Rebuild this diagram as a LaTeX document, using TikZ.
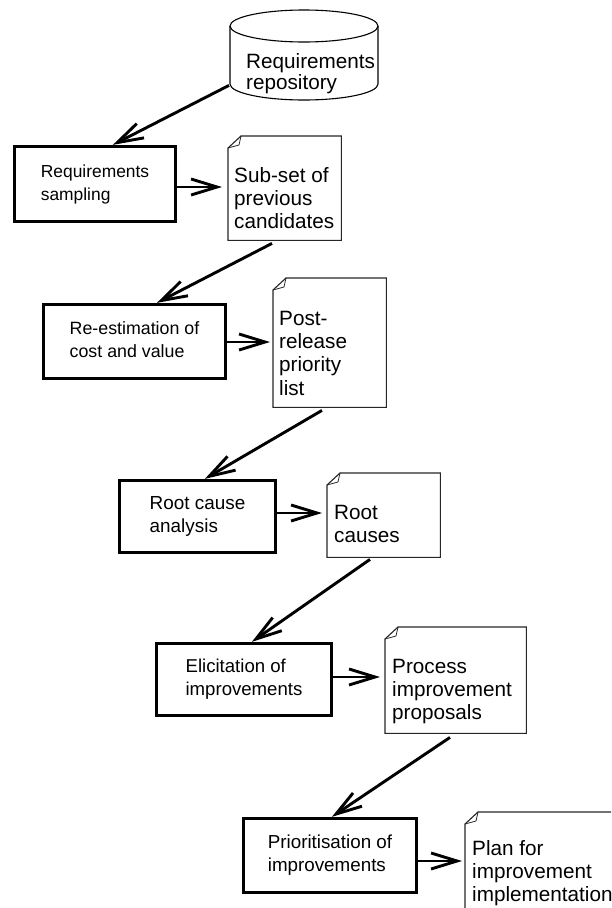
\documentclass[tikz,border=0pt]{standalone}
\usepackage{fontspec}
\setmainfont{Liberation Sans}
\usetikzlibrary{arrows.meta,calc}
\newcommand\docshape[1]{%
  \draw[docline] ($(#1.north west)+(0,12)$) -- ($(#1.north west)+(13,0)$) -- (#1.north east) -- (#1.south east) -- (#1.south west) -- cycle;
  \draw[docline, line width=0.8pt] ($(#1.north west)+(0,12)$) -- ($(#1.north west)+(11,9)$) -- ($(#1.north west)+(13,0)$);}
\newcommand\blines[1]{\raisebox{-2.5pt}{\begin{tabular}{@{}l@{}}#1\end{tabular}}}
\begin{document}
\begin{tikzpicture}[x=1pt,y=-1pt,
  procbox/.style={draw, line width=3.3pt, rectangle, inner sep=0pt},
  bfont/.style={font=\fontsize{#1}{23}\selectfont},
  docarea/.style={rectangle, draw=none, inner sep=0pt, anchor=north west},
  docline/.style={draw=black!85, line width=1.1pt, line join=miter},
  doctext/.style={anchor=north west, inner sep=0pt, align=left, font=\fontsize{20.7}{23.3}\selectfont},
  arr/.style={line width=2.9pt, -{Straight Barb[length=26pt,width=16pt]}}
]
\useasboundingbox (0,0) rectangle (611,908);
\clip (0,0) rectangle (611,908);

% repository (cylinder)
\node[docarea, minimum width=148, minimum height=90] (repo) at (230,10) {};
\draw[line width=1.1pt] (304,26) ellipse [x radius=74pt, y radius=16pt];
\draw[line width=1.1pt] (230,26) -- (230,84) arc[start angle=180, end angle=360, x radius=74pt, y radius=16pt] -- (378,26);
\node[doctext, font=\fontsize{20.7}{21.5}\selectfont] (repotext) at (246,52) {\rule{0pt}{16pt}Requirements\\repository};

% process boxes
\node[procbox, bfont=17.4, minimum width=161, minimum height=75] (b1) at (95,184) {\blines{Requirements\\sampling}};
\node[procbox, bfont=17.8, minimum width=182, minimum height=74] (b2) at (134.5,341.5) {\blines{Re-estimation of\\cost and value}};
\node[procbox, bfont=18.9, minimum width=156, minimum height=72] (b3) at (197.5,516.5) {\blines{Root cause\\analysis}};
\node[procbox, bfont=18.6, minimum width=175, minimum height=72] (b4) at (244,679.5) {\blines{Elicitation of\\improvements}};
\node[procbox, bfont=18.8, minimum width=173, minimum height=74] (b5) at (330,855.5) {\blines{Prioritisation of\\improvements}};

% documents
\node[docarea, minimum width=113, minimum height=104] (d1) at (228,136) {};
\node[docarea, minimum width=113, minimum height=129] (d2) at (273,278) {};
\node[docarea, minimum width=113, minimum height=84] (d3) at (327,473) {};
\node[docarea, minimum width=141, minimum height=106] (d4) at (385,627) {};
\node[docarea, minimum width=200, minimum height=150] (d5) at (465,812) {};
\docshape{d1}
\docshape{d2}
\docshape{d3}
\docshape{d4}
\docshape{d5}
\node[doctext] (t1) at ($(d1.north west)+(6,30)$) {\rule{0pt}{16pt}Sub-set of\\previous\\candidates};
\node[doctext] (t2) at ($(d2.north west)+(6,31)$) {\rule{0pt}{16pt}Post-\\release\\priority\\list};
\node[doctext] (t3) at ($(d3.north west)+(7,30)$) {\rule{0pt}{16pt}Root\\causes};
\node[doctext] (t4) at ($(d4.north west)+(7,30)$) {\rule{0pt}{16pt}Process\\improvement\\proposals};
\node[doctext] (t5) at ($(d5.north west)+(7,27)$) {\rule{0pt}{16pt}Plan for\\improvement\\implementation};

% diagonal connectors
\draw[arr] ($(repo.south west)+(-1,-15)$) -- ($(b1.north west)+(100,0)$);
\draw[arr] ($(d1.south west)+(44,3)$) -- ($(b2.north west)+(115,0)$);
\draw[arr] ($(d2.south west)+(49,3)$) -- ($(b3.north west)+(87,0)$);
\draw[arr] ($(d3.south west)+(43,2)$) -- ($(b4.north west)+(97,0)$);
\draw[arr] ($(d4.south west)+(65,4)$) -- ($(b5.north west)+(90,0)$);

% horizontal connectors
\draw[arr] ($(b1.east)+(0,3)$) -- ($(b1.east -| d1.west)+(-6,3)$);
\draw[arr] ($(b2.east)+(0,0.5)$) -- ($(b2.east -| d2.west)+(-3,0.5)$);
\draw[arr] ($(b3.east)+(0,-3.5)$) -- ($(b3.east -| d3.west)+(-5,-3.5)$);
\draw[arr] ($(b4.east)+(0,-2.5)$) -- ($(b4.east -| d4.west)+(-5,-2.5)$);
\draw[arr] ($(b5.east)+(0,5.5)$) -- ($(b5.east -| d5.west)+(-3,5.5)$);
\end{tikzpicture}
\end{document}
